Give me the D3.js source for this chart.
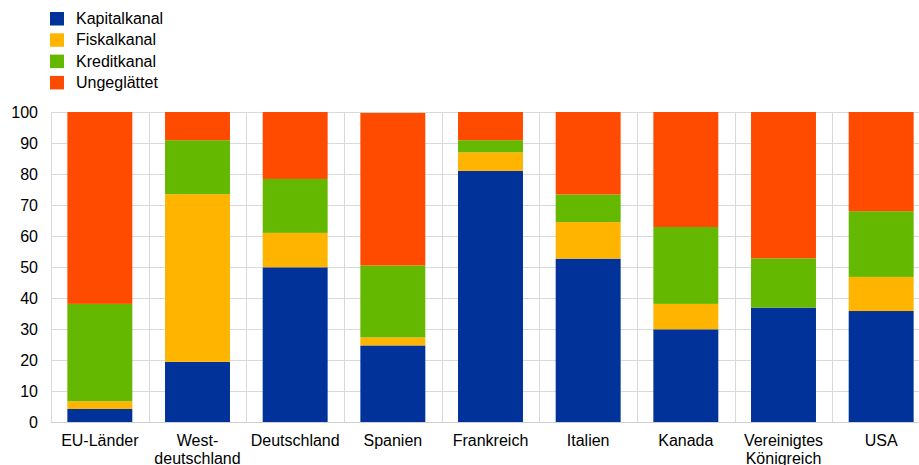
<!DOCTYPE html>
<html>
<head>
<meta charset="utf-8">
<script src="https://cdn.jsdelivr.net/npm/d3@7"></script>
<style>
  html, body { margin: 0; padding: 0; background: #fff; }
  svg { display: block; font-family: "Liberation Sans", Arial, sans-serif; }
</style>
</head>
<body>
<svg id="chart" width="919" height="465"></svg>
<script>
// Categories (line breaks split with "|")
const categories = ["EU-Länder", "West-|deutschland", "Deutschland", "Spanien", "Frankreich",
                    "Italien", "Kanada", "Vereinigtes|Königreich", "USA"];

// Shares per channel, in percent
const kapitalkanal = [4.2, 19.4, 49.9, 24.7, 81.0, 52.7, 29.9, 36.9, 35.8];
const fiskalkanal  = [2.5, 54.1, 11.1, 2.6, 6.0, 11.8, 8.2, 0.0, 11.0];
const kreditkanal  = [31.4, 17.4, 17.4, 23.2, 3.9, 8.9, 24.8, 15.9, 21.2];
const ungeglaettet = [61.9, 9.1, 21.6, 49.2, 9.1, 26.6, 37.1, 47.2, 32.0];

const seriesNames = ["Kapitalkanal", "Fiskalkanal", "Kreditkanal", "Ungeglättet"];
const seriesValues = [kapitalkanal, fiskalkanal, kreditkanal, ungeglaettet];
const colors = ["#003299", "#FFB400", "#65B800", "#FF4B00"];

const yTicks = [0, 10, 20, 30, 40, 50, 60, 70, 80, 90, 100];

const svg = d3.select("#chart");

const x = d3.scaleBand()
  .domain(categories)
  .range([51, 930])
  .paddingInner(0.335)
  .paddingOuter(0.1675);

const y = d3.scaleLinear().domain([0, 100]).range([422, 112]);

// Horizontal grid
svg.append("g")
  .selectAll("line")
  .data(yTicks)
  .join("line")
  .attr("x1", 51).attr("x2", 930)
  .attr("y1", d => Math.round(y(d)) + 0.5)
  .attr("y2", d => Math.round(y(d)) + 0.5)
  .attr("stroke", "#d9d9d9")
  .attr("stroke-width", 1);

// Vertical separators between categories
const step = x.step();
const bounds = d3.range(categories.length + 1).map(i => x(categories[0]) - x.paddingOuter() * step + i * step);
svg.append("g")
  .selectAll("line")
  .data(bounds)
  .join("line")
  .attr("x1", d => Math.round(d) + 0.5)
  .attr("x2", d => Math.round(d) + 0.5)
  .attr("y1", y(100))
  .attr("y2", y(0))
  .attr("stroke", "#d9d9d9")
  .attr("stroke-width", 1);

// Stacked bars
const rows = categories.map((c, i) => {
  const r = { cat: c };
  seriesNames.forEach((s, k) => r[s] = seriesValues[k][i]);
  return r;
});
const stacked = d3.stack().keys(seriesNames)(rows);

svg.append("g")
  .selectAll("g")
  .data(stacked)
  .join("g")
  .attr("fill", (d, i) => colors[i])
  .selectAll("rect")
  .data(d => d)
  .join("rect")
  .attr("x", d => x(d.data.cat))
  .attr("width", x.bandwidth())
  .attr("y", d => y(d[1]))
  .attr("height", d => y(d[0]) - y(d[1]));

// Baseline
svg.append("line")
  .attr("x1", 51).attr("x2", 930)
  .attr("y1", y(0) + 0.5).attr("y2", y(0) + 0.5)
  .attr("stroke", "#cfcfcf");

// Y axis labels
const yAxis = d3.axisLeft(y).tickValues(yTicks).tickSize(0).tickPadding(0);
const gy = svg.append("g").attr("transform", "translate(38,0)").call(yAxis);
gy.select(".domain").remove();
gy.selectAll("text")
  .attr("font-size", 16)
  .attr("font-family", "Liberation Sans, Arial, sans-serif")
  .attr("fill", "#000");

// X axis labels
const xLabels = svg.append("g")
  .selectAll("text")
  .data(categories)
  .join("text")
  .attr("x", d => x(d) + x.bandwidth() / 2)
  .attr("y", 446)
  .attr("text-anchor", "middle")
  .attr("font-size", 16)
  .attr("fill", "#000");
xLabels.each(function(d) {
  const parts = d.split("|");
  const t = d3.select(this);
  parts.forEach((p, i) => {
    t.append("tspan")
      .attr("x", x(d) + x.bandwidth() / 2)
      .attr("dy", i === 0 ? 0 : 17.5)
      .text(p);
  });
});

// Legend
const legend = svg.append("g");
seriesNames.forEach((name, i) => {
  const yy = 12 + i * 21.3;
  legend.append("rect")
    .attr("x", 50).attr("y", yy)
    .attr("width", 14).attr("height", 13.5)
    .attr("fill", colors[i]);
  legend.append("text")
    .attr("x", 76).attr("y", yy + 12)
    .attr("font-size", 16)
    .attr("fill", "#000")
    .text(name);
});
</script>
</body>
</html>
